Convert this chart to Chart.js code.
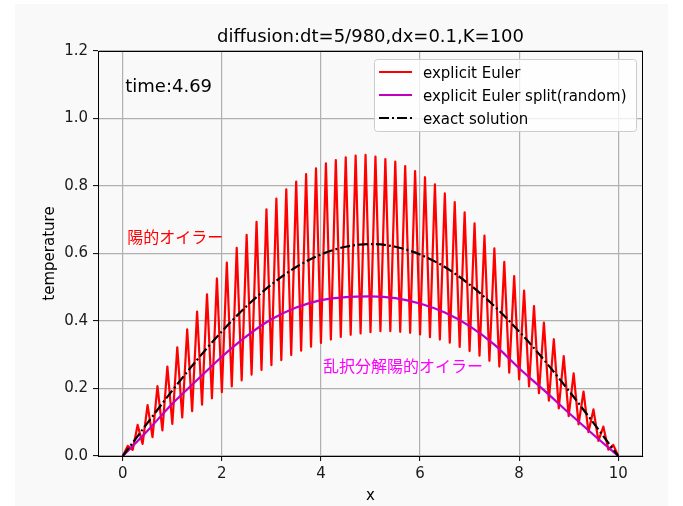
<!DOCTYPE html>
<html><head><meta charset="utf-8">
<script src="https://cdn.jsdelivr.net/npm/chart.js@4.4.0/dist/chart.umd.min.js"></script>
<style>html,body{margin:0;padding:0;background:#fff;}#wrap{width:683px;height:506px;}</style>
</head><body><div id="wrap"><canvas id="c" width="683" height="506"></canvas></div>
<script>
const xFine = [0,0.1,0.2,0.3,0.4,0.5,0.6,0.7,0.8,0.9,1,1.1,1.2,1.3,1.4,1.5,1.6,1.7,1.8,1.9,2,2.1,2.2,2.3,2.4,2.5,2.6,2.7,2.8,2.9,3,3.1,3.2,3.3,3.4,3.5,3.6,3.7,3.8,3.9,4,4.1,4.2,4.3,4.4,4.5,4.6,4.7,4.8,4.9,5,5.1,5.2,5.3,5.4,5.5,5.6,5.7,5.8,5.9,6,6.1,6.2,6.3,6.4,6.5,6.6,6.7,6.8,6.9,7,7.1,7.2,7.3,7.4,7.5,7.6,7.7,7.8,7.9,8,8.1,8.2,8.3,8.4,8.5,8.6,8.7,8.8,8.9,9,9.1,9.2,9.3,9.4,9.5,9.6,9.7,9.8,9.9,10];
const explicitEuler = [0,0.030,0.018,0.092,0.036,0.151,0.056,0.207,0.076,0.265,0.095,0.322,0.114,0.375,0.133,0.428,0.152,0.479,0.171,0.526,0.189,0.573,0.206,0.617,0.224,0.655,0.241,0.694,0.255,0.731,0.269,0.763,0.284,0.790,0.299,0.813,0.312,0.835,0.324,0.852,0.335,0.867,0.345,0.877,0.353,0.885,0.359,0.890,0.363,0.892,0.367,0.887,0.370,0.880,0.370,0.872,0.368,0.859,0.365,0.844,0.360,0.826,0.352,0.805,0.345,0.778,0.336,0.752,0.323,0.722,0.311,0.689,0.297,0.653,0.282,0.615,0.265,0.575,0.247,0.533,0.227,0.490,0.206,0.444,0.186,0.395,0.164,0.346,0.141,0.296,0.118,0.245,0.094,0.191,0.071,0.138,0.045,0.087,0.019,0.033,0];
const xCoarse = [0,0.5,1,1.5,2,2.5,3,3.5,4,4.5,5,5.5,6,6.5,7,7.5,8,8.5,9,9.5,10];
const splitRandom = [0,0.075,0.155,0.225,0.294,0.355,0.405,0.440,0.462,0.471,0.473,0.468,0.452,0.425,0.385,0.330,0.260,0.195,0.128,0.063,0];
const exactSolution = [0,0.098,0.194,0.285,0.369,0.444,0.508,0.560,0.597,0.620,0.628,0.620,0.597,0.560,0.508,0.444,0.369,0.285,0.194,0.098,0];
const xTicks = [0,2,4,6,8,10];
const yTicks = [0,0.2,0.4,0.6,0.8,1.0,1.2];
const seriesLabels = ['explicit Euler','explicit Euler split(random)','exact solution'];
const titleText = 'diffusion:dt=5/980,dx=0.1,K=100';
const timeText = 'time:4.69';
const xLabel = 'x';
const yLabel = 'temperature';
const noteExplicit = '陽的オイラー';
const noteSplit = '乱択分解陽的オイラー';

const FONT = "'DejaVu Sans', sans-serif";
const JFONT = "'Noto Sans CJK JP', 'Noto Sans CJK SC', sans-serif";
const RED = '#ff0000', MAG = '#bf00bf', BLK = '#000000';
const DASH = [10, 3, 2, 3];

const deco = {
  id: 'deco',
  beforeDraw(chart) {
    const ctx = chart.ctx;
    ctx.save();
    ctx.fillStyle = '#ffffff';
    ctx.fillRect(0, 0, chart.width, chart.height);
    ctx.fillStyle = '#f9f9f9';
    ctx.fillRect(15, 4, 653, 502);
    ctx.restore();
  },
  afterDraw(chart) {
    const ctx = chart.ctx, a = chart.chartArea;
    const xs = chart.scales.x, ys = chart.scales.y;
    ctx.save();
    // frame
    ctx.strokeStyle = '#000';
    ctx.lineWidth = 1;
    ctx.strokeRect(Math.round(a.left) + 0.5, Math.round(a.top) + 0.5, Math.round(a.right - a.left) - 1, Math.round(a.bottom - a.top));
    // title
    ctx.fillStyle = '#000';
    ctx.font = '18px ' + FONT;
    ctx.textAlign = 'center';
    ctx.textBaseline = 'alphabetic';
    ctx.fillText(titleText, (a.left + a.right) / 2, 42);
    // axis labels
    ctx.font = '15px ' + FONT;
    ctx.fillText(xLabel, (a.left + a.right) / 2, 500);
    ctx.save();
    ctx.translate(50, (a.top + a.bottom) / 2);
    ctx.rotate(-Math.PI / 2);
    ctx.textBaseline = 'middle';
    ctx.fillText(yLabel, 0, 0);
    ctx.restore();
    // time text (axes coords 0.05, 0.9)
    ctx.font = '18px ' + FONT;
    ctx.textAlign = 'left';
    ctx.fillText(timeText, a.left + 0.05 * (a.right - a.left), a.bottom - 0.9 * (a.bottom - a.top));
    // annotations
    ctx.font = '16px ' + JFONT;
    ctx.textBaseline = 'middle';
    ctx.fillStyle = RED;
    ctx.fillText(noteExplicit, xs.getPixelForValue(0.09), ys.getPixelForValue(0.648));
    ctx.fillStyle = '#ff00ff';
    ctx.fillText(noteSplit, xs.getPixelForValue(4.04), ys.getPixelForValue(0.267));
    // legend
    const bx = 374.5, by = 59.5, bw = 262, bh = 72;
    ctx.beginPath();
    ctx.roundRect(bx, by, bw, bh, 3);
    ctx.fillStyle = 'rgba(255,255,255,0.8)';
    ctx.fill();
    ctx.strokeStyle = '#cccccc';
    ctx.lineWidth = 1;
    ctx.stroke();
    const rows = [72, 95, 118];
    const cols = [RED, MAG, BLK];
    ctx.font = '15px ' + FONT;
    ctx.textBaseline = 'alphabetic';
    for (let i = 0; i < 3; i++) {
      ctx.beginPath();
      ctx.strokeStyle = cols[i];
      ctx.lineWidth = 2.2;
      ctx.setLineDash(i === 2 ? DASH : []);
      ctx.moveTo(379, rows[i]);
      ctx.lineTo(412, rows[i]);
      ctx.stroke();
      ctx.setLineDash([]);
      ctx.fillStyle = '#000';
      ctx.fillText(seriesLabels[i], 423, rows[i] + 5.5);
    }
    ctx.restore();
  }
};

new Chart(document.getElementById('c'), {
  type: 'line',
  data: {
    datasets: [
      { label: seriesLabels[0], data: xFine.map((x, i) => ({x, y: explicitEuler[i]})), borderColor: RED, borderWidth: 2.2, tension: 0, borderJoinStyle: 'round', pointRadius: 0, order: 3 },
      { label: seriesLabels[1], data: xCoarse.map((x, i) => ({x, y: splitRandom[i]})), borderColor: MAG, borderWidth: 2.2, cubicInterpolationMode: 'monotone', pointRadius: 0, order: 2 },
      { label: seriesLabels[2], data: xCoarse.map((x, i) => ({x, y: exactSolution[i]})), borderColor: BLK, borderWidth: 2.2, borderDash: DASH, cubicInterpolationMode: 'monotone', pointRadius: 0, order: 1 }
    ]
  },
  options: {
    responsive: false,
    animation: false,
    devicePixelRatio: 1,
    layout: { padding: { left: 0, right: 40, top: 51, bottom: 0 } },
    plugins: { legend: { display: false }, tooltip: { enabled: false }, title: { display: false } },
    scales: {
      x: {
        type: 'linear', min: -0.5, max: 10.5,
        afterBuildTicks: s => { s.ticks = xTicks.map(v => ({ value: v })); },
        afterFit: s => { s.height = 50; },
        grid: { color: '#b0b0b0', lineWidth: 1.2, tickLength: 5, tickColor: '#000', tickWidth: 1 },
        border: { display: true, color: '#000', width: 1 },
        ticks: { color: '#1a1a1a', font: { family: FONT, size: 15 }, padding: 4, maxRotation: 0, autoSkip: false }
      },
      y: {
        type: 'linear', min: 0, max: 1.2,
        afterBuildTicks: s => { s.ticks = yTicks.map(v => ({ value: v })); },
        afterFit: s => { s.width = 98; },
        grid: { color: '#b0b0b0', lineWidth: 1.2, tickLength: 5, tickColor: '#000', tickWidth: 1 },
        border: { display: true, color: '#000', width: 1 },
        ticks: { color: '#1a1a1a', font: { family: FONT, size: 15 }, padding: 5, autoSkip: false, callback: v => Number(v).toFixed(1) }
      }
    }
  },
  plugins: [deco]
});
</script>
</body></html>
